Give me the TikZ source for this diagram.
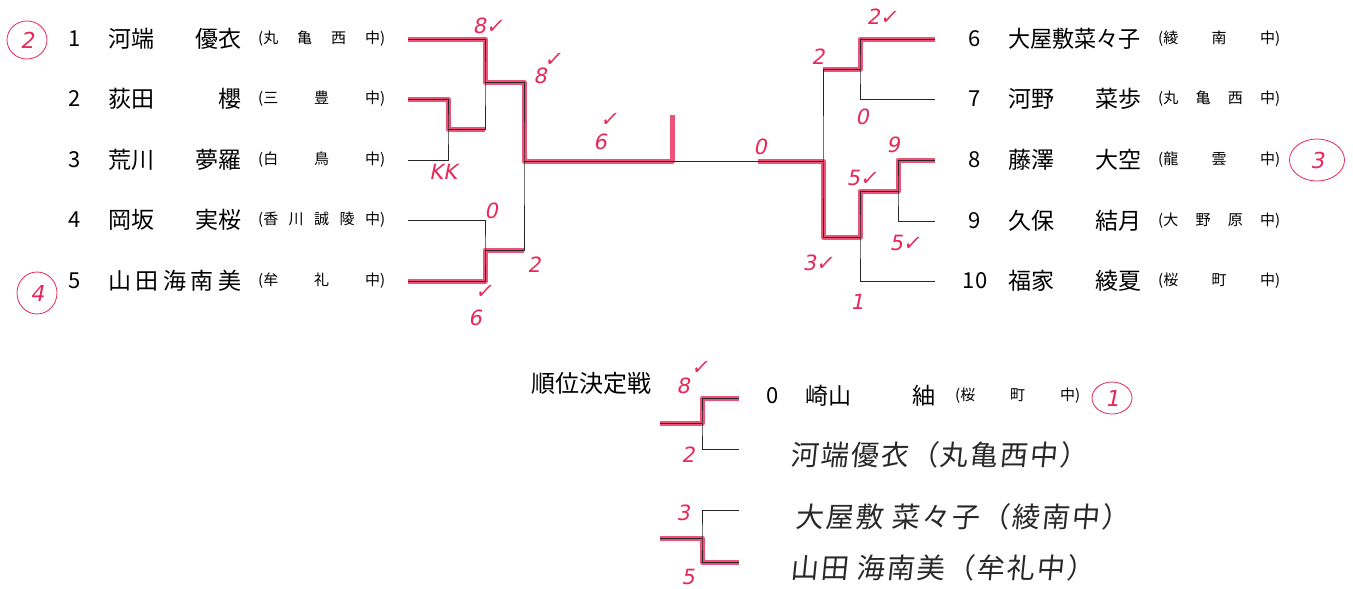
\documentclass[tikz,border=0pt]{standalone}
\usepackage{fontspec}
\usepackage{xcolor}
\usetikzlibrary{positioning,shapes.geometric}
\setmainfont{Noto Sans CJK JP}
\newfontfamily\handfont[FakeSlant=0.1,LetterSpace=7]{Noto Sans CJK JP}
\newfontfamily\penfont[FakeSlant=0.2]{DejaVu Sans}
\definecolor{pen}{RGB}{232,40,88}
\definecolor{ink}{RGB}{40,40,40}

\begin{document}
\begin{tikzpicture}[x=1pt,y=-1pt,
	thinline/.style={draw=black!85,line width=0.8pt},
	win/.style={draw=pen,line width=5pt,opacity=0.8,line join=round},
	playernum/.style={font=\fontsize{22}{22}\selectfont,inner sep=0pt},
	playername/.style={font=\fontsize{23}{23}\selectfont,anchor=west,inner sep=0pt},
	schoolname/.style={font=\fontsize{15}{15}\selectfont,anchor=west,inner sep=0pt},
	score/.style={text=pen,font=\penfont\fontsize{21}{21}\selectfont,inner sep=0pt},
	rank/.style={draw=pen,ellipse,line width=0.8pt,text=pen,font=\penfont\fontsize{22}{22}\selectfont,minimum width=40pt,minimum height=38pt,inner sep=0pt},
	hand/.style={text=ink,font=\handfont\fontsize{28}{28}\selectfont,anchor=west,inner sep=0pt}]

			\useasboundingbox (0,0) rectangle (1353,589);

			\foreach \i/\y/\nm/\sc in {
				1/39/{河端\hfill 優衣}/{(丸\hfill 亀\hfill 西\hfill 中)},
				2/99/{荻田\hfill 櫻}/{(三\hfill 豊\hfill 中)},
				3/160/{荒川\hfill 夢羅}/{(白\hfill 鳥\hfill 中)},
				4/220/{岡坂\hfill 実桜}/{(香\hfill 川\hfill 誠\hfill 陵\hfill 中)},
				5/281/{山\hfill 田\hfill 海\hfill 南\hfill 美}/{(牟\hfill 礼\hfill 中)}}
			{
				\node[playernum] (n\i) at (75,\y) {\i};
				\node[playername] (p\i) at (108,\y) {\makebox[133pt][s]{\nm}};
				\node[schoolname] (s\i) at (258,\y) {\makebox[127pt][s]{\sc}};
				\coordinate (e\i) at (408,\y);
			}

			\foreach \i/\y/\nm/\sc in {
				6/39/{\scalebox{0.96}[1]{大屋敷菜々子}}/{(綾\hfill 南\hfill 中)},
				7/99/{河野\hfill 菜歩}/{(丸\hfill 亀\hfill 西\hfill 中)},
				8/160/{藤澤\hfill 大空}/{(龍\hfill 雲\hfill 中)},
				9/221/{久保\hfill 結月}/{(大\hfill 野\hfill 原\hfill 中)},
				10/281/{福家\hfill 綾夏}/{(桜\hfill 町\hfill 中)}}
			{
				\node[playernum] (n\i) at (975,\y) {\i};
				\node[playername] (p\i) at (1008,\y) {\makebox[133pt][s]{\nm}};
				\node[schoolname] (s\i) at (1158,\y) {\makebox[122pt][s]{\sc}};
				\coordinate (e\i) at (935,\y);
			}

			\coordinate (j23) at (448,129);
			\coordinate (j123) at (485,82);
			\coordinate (j45) at (485,250);
			\coordinate (jL) at (524,161);
			\coordinate (jR) at (823,161);
			\coordinate (j67) at (860,69);
			\coordinate (j89) at (898,191);
			\coordinate (j810) at (860,237);
			\coordinate (tick) at (672,161);
			\coordinate (stop) at (758,161);

			\draw[win] (e1) -| (j123) -| (jL) -- (tick) -- ++(0,-46);
			\draw[win] (e2) -| (j23) -- (j123 |- j23);
			\draw[win] (e5) -| (j45) -- (jL |- j45);
			\draw[win] (e6) -| (j67) -- (jR |- j67);
			\draw[win] (e8) -| (j89) -| (j810) -| (jR) -- (stop);

			\draw[thinline] (e2) -| (j23) |- (e3);
			\draw[thinline] (e1) -| (j123) |- (j23);
			\draw[thinline] (j123) -| (jL) |- (j45);
			\draw[thinline] (e4) -| (j45) |- (e5);
			\draw[thinline] (jL) -- (jR);
			\draw[thinline] (e6) -| (j67) |- (e7);
			\draw[thinline] (j67) -| (jR) |- (j810);
			\draw[thinline] (e10) -| (j810) |- (j89);
			\draw[thinline] (e8) -| (j89) |- (e9);

			\node[font=\fontsize{24}{24}\selectfont] (ttl) at (591,383) {順位決定戦};
			\node[playernum] (n0) at (773,396) {0};
			\node[playername] (p0) at (805,396) {\makebox[130pt][s]{崎山\hfill 紬}};
			\node[schoolname] (s0) at (955,396) {\makebox[125pt][s]{(桜\hfill 町\hfill 中)}};
			\node[hand] (h1) at (790,455) {河端優衣（丸亀西中）};
			\node[hand] (h2) at (795,517) {大屋敷 菜々子（綾南中）};
			\node[hand] (h3) at (790,568) {山田 海南美（牟礼中）};

			\coordinate (b1) at (739,398);
			\coordinate (b2) at (739,449);
			\coordinate (jb1) at (702,423);
			\coordinate (ob1) at (660,423);
			\coordinate (b3) at (739,510);
			\coordinate (b4) at (739,562);
			\coordinate (jb2) at (702,538);
			\coordinate (ob2) at (660,538);

			\draw[win] (ob1) -- (jb1) |- (b1);
			\draw[win] (ob2) -- (jb2) |- (b4);
			\draw[thinline] (b1) -| (jb1) |- (b2);
			\draw[thinline] (jb1) -- (ob1);
			\draw[thinline] (b3) -| (jb2) |- (b4);
			\draw[thinline] (jb2) -- (ob2);

			\node[score] (c1) at (488,26) {8✓};
			\node[score] (c2) at (540,76) {8};
			\node[score] (c2c) at (553,60) {✓};
			\node[score] (c3) at (443,172) {KK};
			\node[score] (c4) at (491,211) {0};
			\node[score] (c5) at (534,265) {2};
			\node[score] (c6) at (484,292) {✓};
			\node[score] (c7) at (475,318) {6};
			\node[score] (c8) at (609,120) {✓};
			\node[score] (c9) at (600,142) {6};
			\node[score] (c10) at (760,147) {0};
			\node[score] (c11) at (882,17) {2✓};
			\node[score] (c12) at (818,57) {2};
			\node[score] (c13) at (862,117) {0};
			\node[score] (c14) at (893,145) {9};
			\node[score] (c15) at (862,178) {5✓};
			\node[score] (c16) at (905,243) {5✓};
			\node[score] (c17) at (818,263) {3✓};
			\node[score] (c18) at (857,302) {1};
			\node[score] (c19) at (683,386) {8};
			\node[score] (c20) at (700,368) {✓};
			\node[score] (c21) at (688,455) {2};
			\node[score] (c22) at (683,513) {3};
			\node[score] (c23) at (688,577) {5};

			\node[rank] (r2) at (27,40) {2};
			\node[rank,minimum height=42pt] (r4) at (37,293) {4};
			\node[rank,minimum width=55pt,minimum height=42pt] (r3) at (1317,160) {3};
			\node[rank,minimum width=40pt,minimum height=32pt] (r1) at (1112,398) {1};
		\end{tikzpicture}
\end{document}
